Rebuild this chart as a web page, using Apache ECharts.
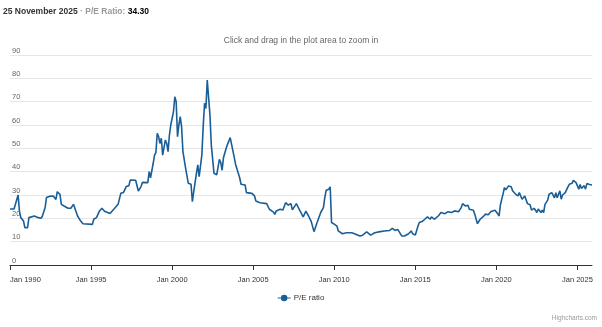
<!DOCTYPE html>
<html>
<head>
<meta charset="utf-8">
<script src="https://cdn.jsdelivr.net/npm/echarts@6/dist/echarts.min.js"></script>
<style>
html,body{margin:0;padding:0;background:#fff;}
#c{width:602px;height:327px;}
</style>
</head>
<body>
<div id="c"></div>
<script>
// ---- data ----
const dates = [
"1990-01","1990-04","1990-07","1990-08","1990-09","1990-11","1990-12","1991-02","1991-03","1991-04",
"1991-07","1991-10","1991-12","1992-01","1992-03","1992-04","1992-06","1992-09","1992-11","1992-12",
"1993-02","1993-03","1993-05","1993-08","1993-10","1993-12","1994-01","1994-03","1994-05","1994-07",
"1995-02","1995-03","1995-05","1995-07","1995-09","1995-11","1996-03","1996-06","1996-09","1996-11",
"1997-01","1997-03","1997-05","1997-06","1997-10","1997-12","1998-02","1998-03","1998-07","1998-08",
"1998-09","1998-11","1998-12","1999-01","1999-02","1999-03","1999-04","1999-05","1999-06","1999-07",
"1999-08","1999-09","1999-10","1999-11","1999-12","2000-02","2000-03","2000-04","2000-05","2000-06",
"2000-07","2000-08","2000-09","2000-11","2001-01","2001-03","2001-04","2001-05","2001-07","2001-08",
"2001-09","2001-11","2001-12","2002-01","2002-02","2002-03","2002-04","2002-05","2002-06","2002-08",
"2002-10","2002-12","2003-01","2003-02","2003-03","2003-05","2003-06","2003-08","2003-09","2003-10",
"2003-12","2004-03","2004-04","2004-07","2004-08","2004-12","2005-02","2005-03","2005-06","2005-11",
"2006-01","2006-04","2006-05","2006-06","2006-09","2006-11","2007-01","2007-03","2007-05","2007-06",
"2007-09","2007-11","2008-02","2008-04","2008-06","2008-08","2008-10","2008-12","2009-01","2009-03",
"2009-05","2009-06","2009-07","2009-09","2009-10","2009-11","2010-01","2010-03","2010-04","2010-07",
"2010-10","2011-02","2011-04","2011-08","2011-10","2012-01","2012-02","2012-04","2012-07","2012-11",
"2013-02","2013-06","2013-08","2013-10","2013-12","2014-01","2014-03","2014-05","2014-08","2014-10",
"2014-11","2015-01","2015-03","2015-04","2015-06","2015-07","2015-08","2015-10","2015-12","2016-01",
"2016-03","2016-06","2016-08","2016-11","2017-01","2017-04","2017-06","2017-09","2017-11","2017-12",
"2018-02","2018-04","2018-05","2018-08","2018-09","2018-10","2018-11","2019-01","2019-03","2019-05",
"2019-07","2019-09","2019-10","2019-12","2020-02","2020-03","2020-04","2020-06","2020-07","2020-08",
"2020-10","2020-12","2021-01","2021-03","2021-05","2021-06","2021-08","2021-10","2021-12","2022-02",
"2022-03","2022-05","2022-07","2022-08","2022-10","2022-11","2022-12","2023-01","2023-03","2023-04",
"2023-06","2023-08","2023-09","2023-10","2023-12","2024-01","2024-02","2024-04","2024-06","2024-07",
"2024-09","2024-10","2024-12","2025-01","2025-02","2025-03","2025-04","2025-06","2025-07","2025-08",
"2025-10","2025-11-25"
];
const peValues = [
24,24,30,23,20.3,18.9,16,16,20.3,21,
21,20.3,20,21,24.6,28.9,29.4,29.6,28.1,31.4,
30.3,26,25.3,24.3,24.3,26,26.3,21,19.1,17.7,
17.4,19.6,20.3,22.9,24.3,23,22.1,24,26,30.7,
31.1,33.6,34,36.4,36.3,31.7,33.6,35.4,35.3,40,
37.4,43.6,47.1,48.3,56.4,55,52.1,54.3,47.1,46.9,
53.6,52.1,48.6,55.7,60,65.7,72.1,70,55,60,
63.6,59.3,48.6,41.4,35,34.6,27.1,31.4,39.3,42.9,
37.9,47.1,59.3,69.3,67.1,79.3,80,64.3,51.4,39.3,
38.6,45.3,43.9,40.6,46,50,51.7,54.6,53.9,48.9,
43.1,37.4,34.6,34.3,31,30.7,29.6,27.4,26.7,26.3,
23.9,22.7,21.7,23.1,23.9,23.6,26.7,25.7,26.3,23.6,
26.3,23.9,20.6,23.1,21,18.6,14.3,17.7,17.7,22.5,
24.6,28.9,32,32.5,33.5,18.2,17.5,16.7,14.6,13.4,
13.8,13.8,13.4,12.4,12.8,14.2,14.8,12.8,13.8,14.3,
14.6,14.8,15.7,14.8,15.2,14.3,12.4,12.4,13.4,14.6,
13.4,12.9,16.7,18.2,18.6,18.2,19.6,20.6,19.6,20.6,
19.6,21,22.5,22,22.8,22.5,23.2,22.8,24.6,26.3,
25.3,25.6,23.9,23.5,21.8,21,17.7,19.6,20.6,21.8,
21.5,22.9,22.5,23.5,22,21,25.8,30.6,33.2,32.2,
33.9,33.5,31.8,30.5,29.6,31,28.2,29.6,26.3,25.8,
23.5,24.3,22.5,24,22.5,23.5,22.5,26,27.8,30.3,
31,28.8,31,28.8,31.8,28.2,30,31,33.5,34.6,
35,36.3,35.3,35.8,32.5,34.5,32.8,34,32.5,34.9,
34.5,34.3
];
const yearTicks = [1990,1995,2000,2005,2010,2015,2020,2025];
const yTicks = [0,10,20,30,40,50,60,70,80,90];
const seriesName = "P/E ratio";
const headerDate = "25 November 2025";
const headerValue = "34.30";

// decimal-year conversion (for the value x axis)
function toYear(s){
  const p = s.split("-").map(Number);
  let v = p[0] + (p[1]-1)/12;
  if (p.length > 2) v += (p[2]-1)/365;
  return v;
}
const seriesData = dates.map((d,i)=>[toYear(d), peValues[i]]);
const xMin = toYear(dates[0]);
const xMax = toYear(dates[dates.length-1]);

const FONT = "'Liberation Sans',Arial,sans-serif";
const LINE = "#1b5e96";

const chart = echarts.init(document.getElementById('c'), null, {renderer:'canvas'});
chart.setOption({
  animation:false,
  textStyle:{fontFamily:FONT},
  title:[{
    left:3, top:7, padding:0,
    text:"{d|"+headerDate+"}{g| · P/E Ratio: }{v|"+headerValue+"}",
    textStyle:{rich:{
      d:{fontFamily:FONT,fontSize:8.5,color:"#333"},
      g:{fontFamily:FONT,fontSize:8.5,color:"#999"},
      v:{fontFamily:FONT,fontSize:8.5,color:"#000",fontWeight:"bold"}
    }}
  },{
    left:"center", top:31,
    text:"Click and drag in the plot area to zoom in",
    textStyle:{fontFamily:FONT,fontSize:8.5,color:"#666",fontWeight:"normal"}
  }],
  graphic:[{
    type:"text", right:5, bottom:5,
    style:{text:"Highcharts.com", fontFamily:FONT, fontSize:6.5, fill:"#999"}
  }],
  legend:{
    bottom:20, left:"center",
    itemWidth:13, itemHeight:7, itemGap:10,
    textStyle:{fontFamily:FONT,fontSize:8,color:"#333",padding:[0,0,0,-2]},
    data:[{name:seriesName, icon:"path://M0,3.5H16V4.5H0Z M8,0A4,4 0 1 1 8,8A4,4 0 1 1 8,0Z"}]
  },
  grid:{left:10, right:10, top:55, bottom:62, outerBoundsMode:"none", containLabel:false},
  xAxis:{
    type:"value", min:xMin, max:xMax,
    axisLine:{show:true, lineStyle:{color:"#333", width:1}},
    axisTick:{show:true, length:5, lineStyle:{color:"#333"}, customValues:yearTicks},
    axisLabel:{customValues:yearTicks, formatter:v=>"Jan "+v, color:"#333", fontSize:7.5, margin:11, fontFamily:FONT, alignMinLabel:"left"},
    splitLine:{show:false}
  },
  yAxis:{
    type:"value", min:yTicks[0], max:yTicks[yTicks.length-1], interval:10,
    axisLine:{show:false}, axisTick:{show:false},
    axisLabel:{inside:false, margin:-2, align:"left", verticalAlign:"bottom", lineHeight:9, color:"#666", fontSize:7.5, fontFamily:FONT},
    splitLine:{lineStyle:{color:"#e6e6e6", width:1}}
  },
  series:[{
    name:seriesName, type:"line", data:seriesData,
    symbol:"circle", symbolSize:7, showSymbol:false,
    lineStyle:{color:LINE, width:1.6}, itemStyle:{color:LINE},
    z:3
  }]
});
</script>
</body>
</html>
